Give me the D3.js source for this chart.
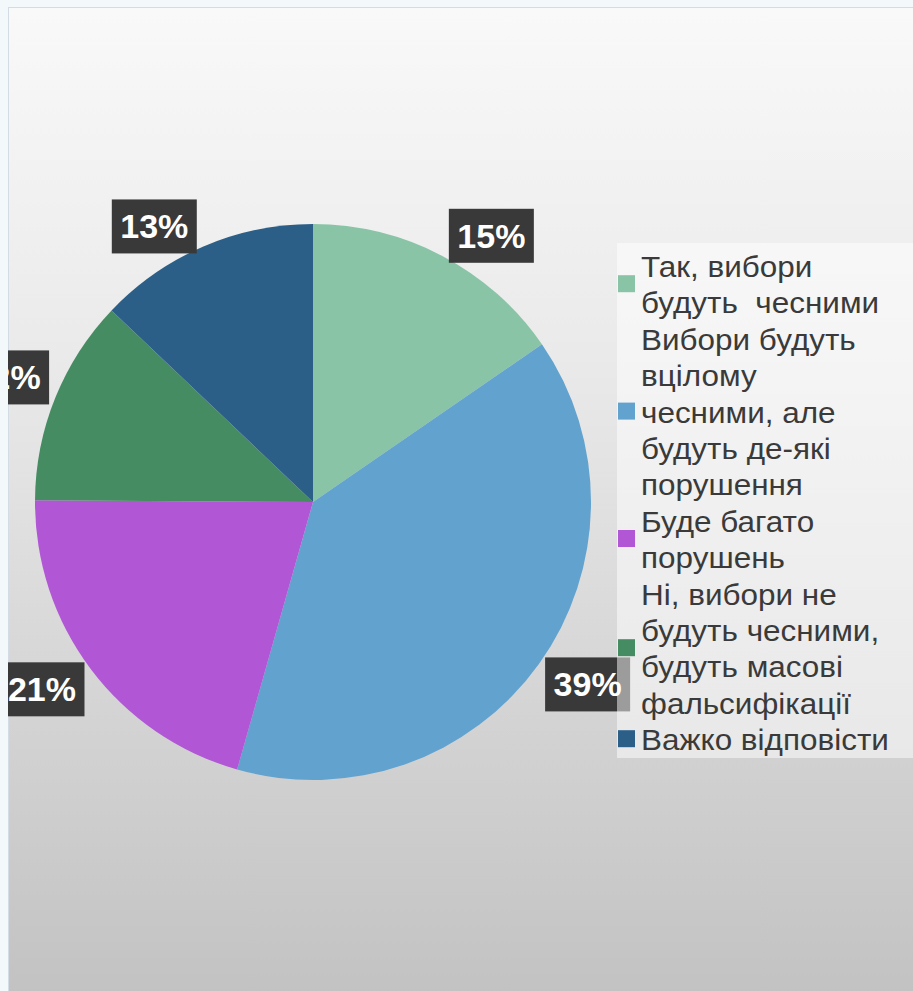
<!DOCTYPE html>
<html>
<head>
<meta charset="utf-8">
<script src="https://cdn.jsdelivr.net/npm/d3@7"></script>
<style>
  body { margin: 0; background: #F3F8FB; }
  svg { display: block; }
</style>
</head>
<body>
<div class="chart"></div>
<script>
// data
var categories = ["Так, вибори будуть  чесними",
  "Вибори будуть вцілому чесними, але будуть де-які порушення",
  "Буде багато порушень",
  "Ні, вибори не будуть чесними, будуть масові фальсифікації",
  "Важко відповісти"]
var legendLines = [
  ["Так, вибори", "будуть  чесними"],
  ["Вибори будуть", "вцілому", "чесними, але", "будуть де-які", "порушення"],
  ["Буде багато", "порушень"],
  ["Ні, вибори не", "будуть чесними,", "будуть масові", "фальсифікації"],
  ["Важко відповісти"]
]
// shares; labels show them rounded
var values = [15.4, 39.0, 20.7, 12.0, 12.9]
var colors = ["#89C4A6", "#61A2CF", "#B156D5", "#468C62", "#2B5F88"]

var W = 913, H = 991
var cx = 313, cy = 502, R = 278

var svg = d3.select(".chart")
  .append("svg")
  .attr("width", W)
  .attr("height", H)

var defs = svg.append("defs")
var grad = defs.append("linearGradient")
  .attr("id", "bg")
  .attr("x1", 0).attr("y1", 0).attr("x2", 0).attr("y2", 1)
grad.append("stop").attr("offset", "0%").attr("stop-color", "#F9F9F9")
grad.append("stop").attr("offset", "35%").attr("stop-color", "#EAEAEA")
grad.append("stop").attr("offset", "100%").attr("stop-color", "#C2C2C2")

defs.append("clipPath").attr("id", "panelClip")
  .append("rect")
  .attr("x", 8).attr("y", 7)
  .attr("width", W - 8).attr("height", H - 7)

// panel
svg.append("rect")
  .attr("x", 8.5).attr("y", 7.5)
  .attr("width", W).attr("height", H)
  .style("fill", "url(#bg)")
  .style("stroke", "#D3DCE4")
  .style("stroke-width", 1)

var g = svg.append("g").attr("clip-path", "url(#panelClip)")

// pie
var pie = d3.pie().sort(null).value(d => d)
var arcs = pie(values)
var arc = d3.arc().innerRadius(0).outerRadius(R)

var pieG = g.append("g").attr("transform", "translate(" + cx + "," + cy + ")")
pieG.selectAll("path")
  .data(arcs)
  .enter()
  .append("path")
  .attr("d", arc)
  .style("fill", (d, i) => colors[i])

var boxW = 85, boxH = 54

// data labels: inner corner of the box near the circle at the slice mid angle,
// pushed a bit outward sideways and inward vertically (like excel does)
var labels = g.append("g")
arcs.forEach((d, i) => {
  var a = (d.startAngle + d.endAngle) / 2
  var sx = Math.sin(a), sy = -Math.cos(a)
  var px = cx + (R - 1) * sx + Math.sign(sx) * 7
  var py = cy + (R - 1) * sy - Math.sign(sy) * 6
  var bx = sx >= 0 ? px : px - boxW
  var by = sy <= 0 ? py - boxH : py

  labels.append("rect")
    .attr("x", bx)
    .attr("y", by)
    .attr("width", boxW)
    .attr("height", boxH)
    .style("fill", "#393939")

  labels.append("text")
    .attr("x", bx + boxW / 2)
    .attr("y", by + boxH / 2 + 12)
    .attr("text-anchor", "middle")
    .text(Math.round(values[i]) + "%")
    .style("font-size", "34px")
    .attr("font-family", "Liberation Sans, Arial, sans-serif")
    .attr("font-weight", "bold")
    .attr("fill", "white")
})

// legend
var legX = 617, legY = 243
g.append("rect")
  .attr("x", legX)
  .attr("y", legY)
  .attr("width", W - legX)
  .attr("height", 515)
  .style("fill", "white")
  .style("opacity", 0.5)

var lineH = 36.4
var firstBase = 277
var lineNo = 0
legendLines.forEach((lines, i) => {
  var start = lineNo
  lines.forEach(t => {
    g.append("text")
      .attr("transform", "translate(641," + (firstBase + lineNo * lineH) + ") scale(1.085,1)")
      .attr("xml:space", "preserve")
      .style("white-space", "pre")
      .text(t)
      .style("font-size", "29px")
      .attr("font-family", "Liberation Sans, Arial, sans-serif")
      .attr("fill", "#3A3A3A")
    lineNo++
  })
  var midY = firstBase - 10 + ((start + lineNo - 1) / 2) * lineH
  g.append("rect")
    .attr("x", 618)
    .attr("y", midY - 10)
    .attr("width", 17)
    .attr("height", 17)
    .style("fill", colors[i])
})
</script>
</body>
</html>
